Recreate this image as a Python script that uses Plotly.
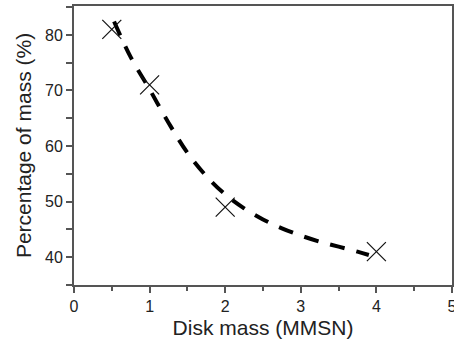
import plotly.graph_objects as go

# Measured points
disk_mass = [0.5, 1.0, 2.0, 4.0]
pct_mass = [81, 71, 49, 41]

# Fitted dashed curve
fit_x = [0.53, 0.75, 1.0, 1.25, 1.5, 1.75, 2.0, 2.25, 2.5, 2.75, 3.0, 3.25, 3.5, 3.75, 3.9]
fit_y = [82.4, 76.0, 70.2, 64.2, 58.8, 54.6, 51.3, 48.8, 46.8, 45.2, 43.9, 42.8, 41.9, 41.0, 40.4]

x_ticks = [0, 1, 2, 3, 4, 5]
y_ticks = [40, 50, 60, 70, 80]

fig = go.Figure()
fig.add_trace(go.Scatter(
    x=fit_x, y=fit_y, mode="lines",
    line=dict(color="black", width=4, dash="15px,12px", shape="spline"),
    showlegend=False, hoverinfo="skip"))
fig.add_trace(go.Scatter(
    x=disk_mass, y=pct_mass, mode="markers",
    marker=dict(symbol="x-thin-open", size=19, color="#111", line=dict(color="#111", width=1.2)),
    showlegend=False))

font = "Liberation Sans, Arial, sans-serif"
axcol = "#555"
fig.update_layout(
    width=454, height=341,
    margin=dict(l=74, r=2, t=6, b=56),
    paper_bgcolor="white", plot_bgcolor="white",
    font=dict(family=font, color="#222", size=16),
)
fig.update_xaxes(
    range=[0, 5.0001], tickvals=x_ticks, ticktext=[str(v) for v in x_ticks],
    ticklabeloverflow="allow", automargin=False,
    showgrid=False, zeroline=False,
    showline=True, linecolor=axcol, linewidth=2, mirror=True,
    ticks="outside", ticklen=6, tickwidth=1.5, tickcolor=axcol,
    minor=dict(dtick=0.5, ticks="outside", ticklen=4, tickwidth=1.5, tickcolor=axcol),
    tickfont=dict(size=16, color="#222"),
    title=dict(text="Disk mass (MMSN)", font=dict(size=21, color="#222"), standoff=6),
)
fig.update_yaxes(
    range=[35, 85.2], tickvals=y_ticks, ticktext=[str(v) for v in y_ticks],
    automargin=False,
    showgrid=False, zeroline=False,
    showline=True, linecolor=axcol, linewidth=2, mirror=True,
    ticks="outside", ticklen=6, tickwidth=1.5, tickcolor=axcol,
    minor=dict(dtick=5, ticks="outside", ticklen=6, tickwidth=1.5, tickcolor=axcol),
    tickfont=dict(size=16, color="#222"),
    title=dict(text="Percentage of mass (%)", font=dict(size=21, color="#222"), standoff=8),
)
fig.write_html("out.html")
